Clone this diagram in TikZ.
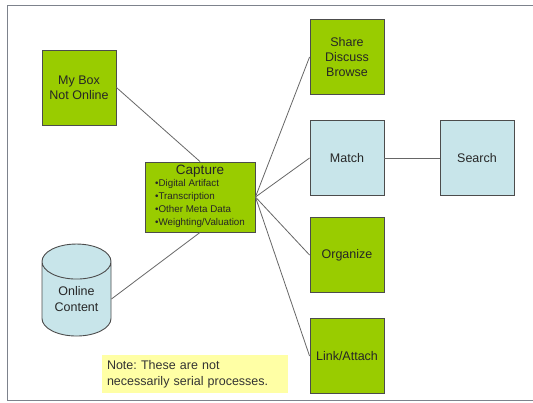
\documentclass[tikz,border=0pt]{standalone}
\usepackage{fontspec}
\setmainfont{Liberation Sans}
\usetikzlibrary{shapes.geometric}
\definecolor{boxgreen}{RGB}{153,204,0}
\definecolor{boxblue}{RGB}{200,229,234}
\definecolor{notebg}{RGB}{255,255,165}
\definecolor{framegray}{RGB}{125,130,140}
\frenchspacing
\begin{document}
\begin{tikzpicture}[x=1pt,y=-1pt,
    greenbox/.style={draw=black!70,fill=boxgreen,line width=0.9pt,minimum width=74pt,minimum height=75pt,
      inner sep=0pt,align=center,text=black!85,font=\fontsize{12.5}{15.3}\selectfont},
    bluebox/.style={greenbox,fill=boxblue},
    link/.style={draw=black!60,line width=0.8pt}]
  \useasboundingbox (0,0) rectangle (533,402);
  % slide frame
  \draw [framegray,line width=1pt] (533,5)--(7,5)--(7,400)--(533,400);
  % sources
  \node [greenbox] (mybox) at (79,87.5) {My Box\\Not Online};
  \node [bluebox,cylinder,shape border rotate=90,aspect=0.8,minimum width=69pt,minimum height=92pt]
    (online) at (76.5,299) {Online\\Content};
  \node [greenbox,minimum width=110pt,minimum height=70pt,align=left] (capture) at (200,197)
    {\begin{tabular}{@{}l@{}}
      \multicolumn{1}{@{}c@{}}{\fontsize{13.5}{13}\selectfont Capture}\\[-3.5pt]
      \fontsize{9.8}{12.5}\selectfont\textbullet Digital Artifact\\[-2pt]
      \fontsize{9.8}{12.5}\selectfont\textbullet Transcription\\[-2pt]
      \fontsize{9.8}{12.5}\selectfont\textbullet Other Meta Data\\[-2pt]
      \fontsize{9.8}{12.5}\selectfont\textbullet Weighting/Valuation
    \end{tabular}};
  % uses
  \node [greenbox] (share) at (347,57) {Share\\Discuss\\Browse};
  \node [bluebox] (match) at (347,158) {Match};
  \node [bluebox] (search) at (477,158) {Search};
  \node [greenbox] (organize) at (347,255) {Organize};
  \node [greenbox] (linkatt) at (347,356) {Link/Attach};
  % note
  \node [fill=notebg,minimum width=186pt,minimum height=38pt,align=left,text width=176pt,
    font=\fontsize{12.5}{16}\selectfont,text=black!80] (note) at (195,374)
    {Note: These are not\\necessarily serial processes.};
  % connectors
  \draw [link] (mybox.east) -- (capture.north);
  \draw [link] (online.east) -- (capture.south);
  \draw [link] (capture.east) -- (share.west);
  \draw [link] (capture.east) -- (match.west);
  \draw [link] (capture.east) -- (organize.west);
  \draw [link] (capture.east) -- (linkatt.west);
  \draw [link] (match.east) -- (search.west);
\end{tikzpicture}
\end{document}
